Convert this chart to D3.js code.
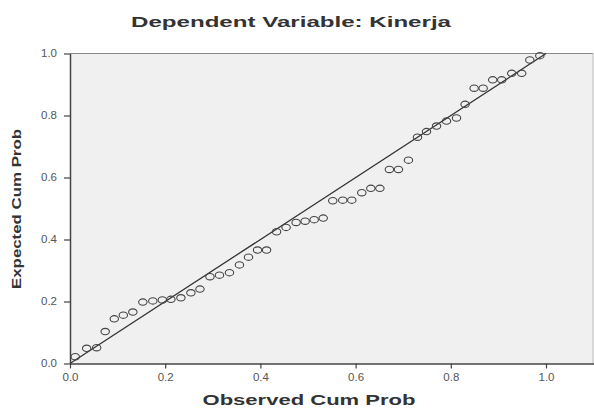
<!DOCTYPE html>
<html><head><meta charset="utf-8">
<script src="https://cdn.jsdelivr.net/npm/d3@7"></script>
<style>body{margin:0;background:#fff}svg{display:block}text{font-family:"Liberation Sans",Arial,sans-serif}</style>
</head><body><svg id="c" width="594" height="409"></svg>
<script>
const titleText = "Dependent Variable: Kinerja";
const xLabel = "Observed Cum Prob";
const yLabel = "Expected Cum Prob";
const tickValues = [0, 0.2, 0.4, 0.6, 0.8, 1.0];
const observed = [0.011,0.035,0.056,0.074,0.093,0.112,0.132,0.153,0.174,0.194,0.212,0.233,0.254,0.273,0.294,0.314,0.335,0.356,0.375,0.394,0.413,0.434,0.454,0.475,0.494,0.513,0.532,0.552,0.573,0.592,0.613,0.632,0.651,0.671,0.690,0.711,0.730,0.749,0.770,0.791,0.812,0.830,0.849,0.868,0.888,0.907,0.928,0.949,0.966,0.987];
const expected = [0.022,0.049,0.051,0.103,0.144,0.156,0.166,0.198,0.202,0.205,0.207,0.212,0.228,0.240,0.280,0.285,0.293,0.318,0.343,0.366,0.366,0.425,0.439,0.455,0.459,0.464,0.469,0.525,0.527,0.527,0.551,0.565,0.565,0.626,0.626,0.656,0.730,0.748,0.766,0.782,0.792,0.836,0.888,0.888,0.915,0.915,0.936,0.936,0.979,0.993];

const svg = d3.select("#c");
const L = 70, R = 593, T = 53.5, B = 363.5;
const x = d3.scaleLinear().domain([0, 1.1]).range([L, L + 476 * 1.1]);
const y = d3.scaleLinear().domain([0, 1]).range([B, T]);

svg.append("rect").attr("x", L).attr("y", T).attr("width", R - L).attr("height", B - T).attr("fill", "#f0f0f0");
svg.append("line").attr("x1", L).attr("x2", R).attr("y1", T).attr("y2", T).attr("stroke", "#888").attr("stroke-width", 1.2);
svg.append("line").attr("x1", R).attr("x2", R).attr("y1", T).attr("y2", B).attr("stroke", "#bbb").attr("stroke-width", 1);

const xa = svg.append("g").attr("transform", `translate(0,${B})`)
  .call(d3.axisBottom(x).tickValues(tickValues).tickFormat(d3.format(".1f")).tickSize(5).tickSizeOuter(0));
const ya = svg.append("g").attr("transform", `translate(${L},0)`)
  .call(d3.axisLeft(y).tickValues(tickValues).tickFormat(d3.format(".1f")).tickSize(6).tickSizeOuter(0));
[xa, ya].forEach(g => {
  g.select(".domain").attr("stroke", "#444").attr("stroke-width", 1.5);
  g.selectAll(".tick line").attr("stroke", "#444").attr("stroke-width", 1.2);
  g.selectAll(".tick text").attr("fill", "#555").attr("font-size", 10)
    .attr("textLength", 16).attr("lengthAdjust", "spacingAndGlyphs");
});
xa.selectAll(".tick text").attr("dy", "1.25em").attr("y", 5);
ya.selectAll(".tick text").attr("x", -13);

// reference line
svg.append("line").attr("x1", x(0)).attr("y1", y(0)).attr("x2", x(1)).attr("y2", y(1))
  .attr("stroke", "#333").attr("stroke-width", 1.3);

svg.append("g").selectAll("ellipse").data(observed).join("ellipse")
  .attr("cx", d => x(d)).attr("cy", (d, i) => y(expected[i]))
  .attr("rx", 4.2).attr("ry", 3.2)
  .attr("fill", "none").attr("stroke", "#444").attr("stroke-width", 1.1);

svg.append("text").attr("x", 291).attr("y", 27).attr("text-anchor", "middle")
  .attr("font-size", 15).attr("font-weight", "bold").attr("fill", "#333")
  .attr("textLength", 320).attr("lengthAdjust", "spacingAndGlyphs").text(titleText);
svg.append("text").attr("x", 309).attr("y", 405).attr("text-anchor", "middle")
  .attr("font-size", 14).attr("font-weight", "bold").attr("fill", "#333")
  .attr("textLength", 213).attr("lengthAdjust", "spacingAndGlyphs").text(xLabel);
svg.append("text").attr("transform", "translate(21,209) rotate(-90)").attr("text-anchor", "middle")
  .attr("font-size", 12).attr("font-weight", "bold").attr("fill", "#333")
  .attr("textLength", 160).attr("lengthAdjust", "spacingAndGlyphs").text(yLabel);
</script></body></html>
